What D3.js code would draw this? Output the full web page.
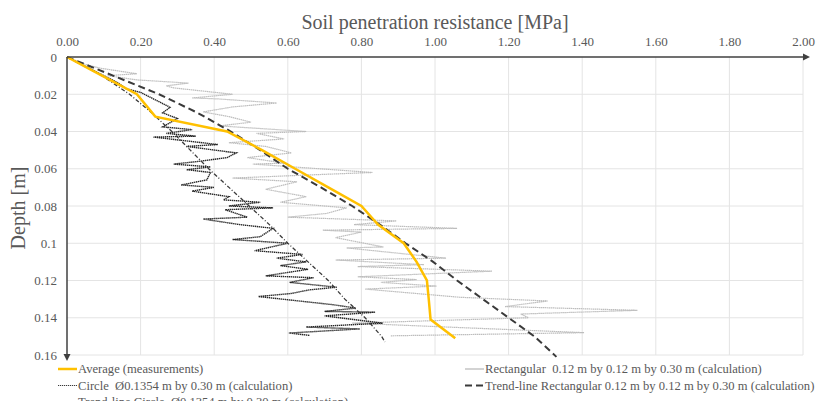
<!DOCTYPE html>
<html>
<head>
<meta charset="utf-8">
<title>Soil penetration resistance</title>
<style>
body {
	margin: 0;
	background: white;
}
svg {
	display: block;
	font-family: "Liberation Serif", "Times New Roman", serif;
}
.grid line {
	stroke: #e4e4e4;
	stroke-width: 1;
}
.axis .domain { display: none; }
.axis text {
	fill: #595959;
	font-family: "Liberation Serif", "Times New Roman", serif;
	font-size: 13px;
}
.title {
	fill: #595959;
	font-size: 20px;
}
.legend text {
	fill: #595959;
	font-size: 12.6px;
	white-space: pre;
}
.series { fill: none; }
</style>
</head>
<body>
<svg id="chart" width="819" height="401"></svg>

<script src="https://cdn.jsdelivr.net/npm/d3@7"></script>
<script>

// [depth (m), resistance (MPa)]
var averageData = [[0,0],[0.01,0.095],[0.02,0.19],[0.032,0.24],[0.04,0.435],[0.05,0.53],[0.06,0.62],
	[0.07,0.71],[0.08,0.80],[0.09,0.845],[0.10,0.915],[0.11,0.95],[0.12,0.978],[0.13,0.983],
	[0.141,0.988],[0.151,1.055]];

var rectangularData = [[0,0],[0.004,0.05],[0.006,0.09],[0.009,0.19],[0.010,0.11],[0.0123,0.19],
	[0.014,0.33],[0.0155,0.27],[0.0166,0.29],[0.020,0.45],[0.022,0.34],[0.0225,0.41],[0.0247,0.57],
	[0.0268,0.45],[0.0295,0.37],[0.032,0.44],[0.035,0.50],[0.037,0.415],[0.040,0.65],[0.041,0.515],
	[0.044,0.59],[0.046,0.44],[0.048,0.54],[0.0515,0.61],[0.054,0.49],[0.057,0.59],[0.0575,0.505],
	[0.062,0.83],[0.063,0.70],[0.065,0.45],[0.067,0.625],[0.071,0.54],[0.075,0.65],[0.078,0.58],
	[0.081,0.76],[0.084,0.705],[0.086,0.60],[0.088,0.895],[0.090,0.78],[0.092,1.06],[0.093,0.695],
	[0.094,0.80],[0.097,0.73],[0.102,0.86],[0.1025,0.76],[0.108,1.03],[0.109,0.73],[0.1115,0.97],
	[0.1125,0.79],[0.115,1.155],[0.118,0.79],[0.1195,0.95],[0.121,0.853],[0.123,1.004],[0.1246,0.81],
	[0.129,1.067],[0.131,1.306],[0.134,1.19],[0.136,1.55],[0.138,1.233],[0.140,1.254],[0.1429,0.775],
	[0.148,1.405],[0.1497,0.88]];

var circleData = [[0,0],[0.005,0.05],[0.010,0.10],[0.014,0.14],[0.017,0.16],[0.019,0.20],[0.021,0.22],
	[0.024,0.25],[0.027,0.28],[0.030,0.26],[0.033,0.30],[0.0375,0.26],[0.039,0.34],[0.041,0.27],
	[0.0425,0.35],[0.043,0.235],[0.047,0.41],[0.048,0.325],[0.0515,0.46],[0.054,0.435],[0.056,0.36],
	[0.0575,0.29],[0.059,0.39],[0.0605,0.325],[0.062,0.39],[0.066,0.38],[0.0687,0.31],[0.070,0.40],
	[0.072,0.34],[0.075,0.44],[0.0767,0.425],[0.078,0.525],[0.080,0.44],[0.081,0.56],[0.082,0.43],
	[0.086,0.49],[0.087,0.37],[0.090,0.47],[0.092,0.56],[0.0965,0.525],[0.098,0.45],[0.100,0.60],
	[0.104,0.51],[0.106,0.64],[0.108,0.57],[0.110,0.65],[0.112,0.58],[0.114,0.655],[0.1175,0.54],
	[0.1185,0.67],[0.121,0.605],[0.1236,0.733],[0.125,0.66],[0.127,0.608],[0.1286,0.52],[0.133,0.723],
	[0.1348,0.785],[0.1366,0.70],[0.137,0.8375],[0.139,0.70],[0.1429,0.858],[0.145,0.65],[0.146,0.796],
	[0.1482,0.603],[0.1495,0.66]];

var trendRectData = [[0,0],[0.01,0.125],[0.02,0.25],[0.03,0.355],[0.04,0.445],[0.05,0.525],[0.06,0.60],
	[0.07,0.69],[0.08,0.775],[0.09,0.85],[0.10,0.92],[0.11,0.995],[0.12,1.06],[0.13,1.13],[0.14,1.20],
	[0.15,1.27],[0.161,1.33]];

var trendCircleData = [[0,0],[0.01,0.095],[0.02,0.17],[0.03,0.23],[0.04,0.285],[0.05,0.335],[0.06,0.385],
	[0.07,0.44],[0.08,0.495],[0.09,0.55],[0.10,0.60],[0.11,0.655],[0.12,0.71],[0.13,0.755],[0.14,0.81],
	[0.15,0.855],[0.153,0.864]];

var xTicks = [0, 0.2, 0.4, 0.6, 0.8, 1.0, 1.2, 1.4, 1.6, 1.8, 2.0];
var yTicks = [0, 0.02, 0.04, 0.06, 0.08, 0.1, 0.12, 0.14, 0.16];

var legendLabels = [
	"Average (measurements)",
	"Circle  \u00D80.1354 m by 0.30 m (calculation)",
	"Trend-line Circle  \u00D80.1354 m by 0.30 m (calculation)",
	"Rectangular  0.12 m by 0.12 m by 0.30 m (calculation)",
	"Trend-line Rectangular 0.12 m by 0.12 m by 0.30 m (calculation)"
];

var plotLeft = 67, plotRight = 803, plotTop = 57, plotBottom = 355;

var x = d3.scaleLinear().domain([0, 2]).range([plotLeft, plotRight]);
var y = d3.scaleLinear().domain([0, 0.16]).range([plotTop, plotBottom]);

var svg = d3.select("#chart");

// gridlines
var grid = svg.append("g").attr("class", "grid");
grid.selectAll(".v").data(xTicks.slice(1)).enter().append("line")
	.attr("x1", function(d) { return x(d); }).attr("x2", function(d) { return x(d); })
	.attr("y1", plotTop).attr("y2", plotBottom);
grid.selectAll(".h").data(yTicks.slice(1)).enter().append("line")
	.attr("x1", plotLeft).attr("x2", plotRight)
	.attr("y1", function(d) { return y(d); }).attr("y2", function(d) { return y(d); });

// axes labels
svg.append("g")
	.attr("class", "x axis")
	.attr("transform", "translate(0," + plotTop + ")")
	.call(d3.axisTop(x).tickValues(xTicks).tickSize(0).tickPadding(11).tickFormat(d3.format(".2f")));

svg.append("g")
	.attr("class", "y axis")
	.attr("transform", "translate(" + plotLeft + ",0)")
	.call(d3.axisLeft(y).tickValues(yTicks).tickSize(0).tickPadding(10).tickFormat(d3.format("~g")));

// series
var line = d3.line()
	.x(function(d) { return x(d[1]); })
	.y(function(d) { return y(d[0]); });

var styles = {
	average: {stroke: "#FFC000", width: 2.5, dash: null},
	circle: {stroke: "#262626", width: 1.4, dash: "1.4,0.6"},
	trendCircle: {stroke: "#3a3a3a", width: 1.3, dash: "4,2,1,2"},
	rect: {stroke: "#bdbdbd", width: 1.2, dash: "1.5,0.5"},
	trendRect: {stroke: "#3a3a3a", width: 2, dash: "7,4"}
};

function drawSeries(data, s) {
	svg.append("path")
		.datum(data)
		.attr("class", "series")
		.attr("d", line)
		.attr("stroke", s.stroke)
		.attr("stroke-width", s.width)
		.attr("stroke-dasharray", s.dash);
}

drawSeries(rectangularData, styles.rect);
drawSeries(circleData, styles.circle);
drawSeries(trendCircleData, styles.trendCircle);
drawSeries(trendRectData, styles.trendRect);
drawSeries(averageData, styles.average);

// axis lines with arrows
svg.append("line").attr("x1", plotLeft).attr("x2", plotRight + 2).attr("y1", plotTop).attr("y2", plotTop)
	.attr("stroke", "#404040").attr("stroke-width", 1.5);
svg.append("path").attr("d", "M" + (plotRight + 7) + "," + plotTop + "l-7,-3.5v7z").attr("fill", "#404040");
svg.append("line").attr("x1", plotLeft).attr("x2", plotLeft).attr("y1", plotTop).attr("y2", plotBottom + 2)
	.attr("stroke", "#404040").attr("stroke-width", 1.5);
svg.append("path").attr("d", "M" + plotLeft + "," + (plotBottom + 6) + "l-3.5,-7h7z").attr("fill", "#404040");

// titles
svg.append("text").attr("class", "title")
	.attr("x", 435).attr("y", 29)
	.attr("text-anchor", "middle")
	.text("Soil penetration resistance [MPa]");

svg.append("text").attr("class", "title")
	.attr("transform", "translate(25,208) rotate(-90)")
	.attr("text-anchor", "middle")
	.text("Depth [m]");

// legend
var legendItems = [
	{label: legendLabels[0], s: styles.average, x: 58, y: 369},
	{label: legendLabels[1], s: {stroke: "#3a3a3a", width: 1.1, dash: "1.2,0.8"}, x: 58, y: 385.5},
	{label: legendLabels[2], s: styles.trendCircle, x: 58, y: 402},
	{label: legendLabels[3], s: {stroke: "#b0b0b0", width: 1.1, dash: null}, x: 465, y: 369},
	{label: legendLabels[4], s: styles.trendRect, x: 465, y: 385.5}
];

var legend = svg.append("g").attr("class", "legend");
var item = legend.selectAll("g").data(legendItems).enter().append("g")
	.attr("transform", function(d) { return "translate(" + d.x + "," + d.y + ")"; });
item.append("line")
	.attr("x1", 0).attr("x2", 19).attr("y1", 0).attr("y2", 0)
	.attr("stroke", function(d) { return d.s.stroke; })
	.attr("stroke-width", function(d) { return d.s.width; })
	.attr("stroke-dasharray", function(d) { return d.s.dash; });
item.append("text")
	.attr("x", 20).attr("y", 0).attr("dy", "0.35em")
	.text(function(d) { return d.label; });

</script>
</body>
</html>
